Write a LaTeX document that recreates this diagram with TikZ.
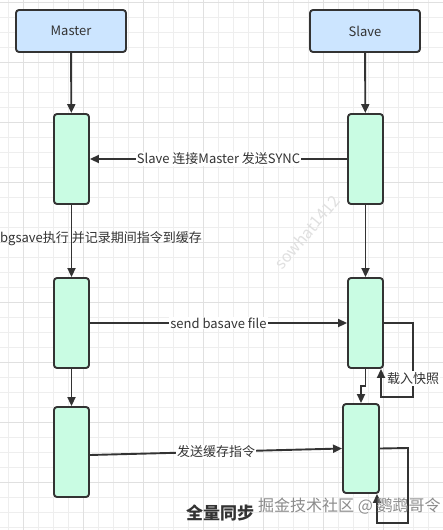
\documentclass[tikz,border=0pt]{standalone}
\usepackage{fontspec}
\setmainfont{Noto Sans CJK SC}
\usetikzlibrary{arrows.meta}
\definecolor{hdr}{HTML}{CCE5FF}
\definecolor{barc}{HTML}{C9FCE3}
\definecolor{ln}{HTML}{333333}
\definecolor{gridminor}{HTML}{EEEEEE}
\definecolor{gridmajor}{HTML}{E0E0E0}
\tikzset{
 hdrbox/.style={draw=ln, line width=1.9pt, fill=hdr, rounded corners=3pt, minimum width=110pt, minimum height=42pt, inner sep=0pt, font=\fontsize{13}{15}\selectfont, text=ln},
 lifebar/.style={draw=ln, line width=1.9pt, fill=barc, rounded corners=3pt, minimum width=35pt, minimum height=90pt, inner sep=0pt},
 conn/.style={draw=ln, line width=1.9pt, -{Triangle[length=9pt,width=8pt]}},
 lbl/.style={fill=white, inner sep=1pt, font=\fontsize{13}{15}\selectfont, text=ln},
 wmark/.style={text=black!12, font=\fontsize{16}{18}\selectfont, rotate=50},
}
\begin{document}
\begin{tikzpicture}[x=1pt,y=-1pt]
\useasboundingbox[fill=white] (0,0) rectangle (443,530);
% grid
\foreach \k in {0,...,29} {\draw[gridminor, line width=0.6pt] ({8.3+15*\k},0) -- ({8.3+15*\k},530);}
\foreach \k in {0,...,35} {\draw[gridminor, line width=0.6pt] (0,{2.7+15*\k}) -- (443,{2.7+15*\k});}
\foreach \k in {0,...,7} {\draw[gridmajor, line width=0.6pt] ({23.3+60*\k},0) -- ({23.3+60*\k},530);}
\foreach \k in {0,...,8} {\draw[gridmajor, line width=0.6pt] (0,{2.7+60*\k}) -- (443,{2.7+60*\k});}
% faint watermark
\node[wmark] (w2) at (307,232) {sowhat1412};
% headers
\node[hdrbox] (master) at (71,31) {Master};
\node[hdrbox] (slave) at (365,31) {Slave};
% lifeline bars
\node[lifebar] (m1) at (71.5,159) {};
\node[lifebar] (s1) at (365.5,159) {};
\node[lifebar] (m2) at (71.5,323) {};
\node[lifebar] (s2) at (365.5,323) {};
\node[lifebar] (m3) at (71.5,452) {};
\node[lifebar, minimum width=36pt, minimum height=89pt] (s3) at (361,448.5) {};
% vertical connectors
\draw[conn] (master) -- (m1);
\draw[conn] (slave) -- (s1);
\draw[conn] (m1) -- (m2);
\draw[conn] (s1) -- (s2);
\draw[conn] (m2) -- (m3);
\coordinate (j1) at (365.5,386);
\coordinate (j2) at (361,386);
\draw[conn] (s2.south) -- (j1) -- (j2) -- (s3.north);
% messages
\draw[conn] (s1.west) -- node[lbl] (l1) {Slave 连接Master 发送SYNC} (m1.east);
\draw[conn] (m2.east) -- node[lbl] (l2) {send basave file} (s2.west);
\draw[conn] ([yshift=-3pt]m3.east) -- node[lbl] (l3) {发送缓存指令} (s3.west);
\node[anchor=west, inner sep=0pt, font=\fontsize{13}{15}\selectfont, text=ln] (l4) at (0,239) {bgsave执行 并记录期间指令到缓存};
% self loops
\coordinate (a1) at (413,323);
\coordinate (a2) at (413,397);
\coordinate (a3) at (381,397);
\draw[conn] (s2.east) -- (a1) -- node[lbl, pos=0.75] (l5) {载入快照} (a2) -- (a3) -- (a3 |- s2.south);
\coordinate (b1) at (408,448);
\coordinate (b2) at (408,523);
\coordinate (b3) at (377,523);
\draw[conn] (s3.east) -- (b1) -- (b2) -- (b3) -- (b3 |- s3.south);
% title and watermark
\node[font=\fontsize{17}{19}\selectfont\bfseries, text=ln] (title) at (220,513) {全量同步};
\node[anchor=west, inner sep=0pt, font=\fontsize{16}{18}\selectfont, text=black!45] (wm) at (258,506) {掘金技术社区 @ 鹦鹉哥令};
\end{tikzpicture}
\end{document}
